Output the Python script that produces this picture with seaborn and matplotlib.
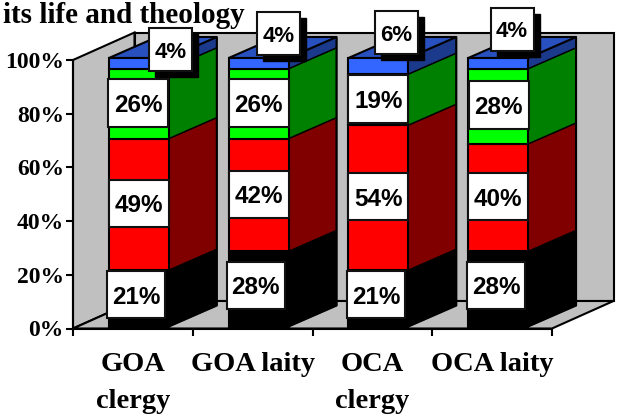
import matplotlib
matplotlib.use("Agg")
import matplotlib.pyplot as plt
from matplotlib.patches import Rectangle
import numpy as np
import seaborn as sns

# ---- data ----
categories = ["GOA\nclergy", "GOA laity", "OCA\nclergy", "OCA laity"]
black_vals = [21, 28, 21, 28]
red_vals = [49, 42, 54, 40]
green_vals = [26, 26, 19, 28]
blue_vals = [4, 4, 6, 4]
y_ticks = [0, 20, 40, 60, 80, 100]
title_text = "its life and theology"

# ---- layout (pixels) ----
W, H = 619, 418
AX_L, AX_R, AX_T, AX_B = 73, 552, 60, 328.5
BAR_SHIFT = (6, 2)
DEPTH_PX = (48, 21)
WALL_PX = (61.5, 27.5)
LABEL_OFFSETS = {
    "black": [(-3, 3.8), (-3, 3.9), (-2.5, 3.8), (-2, 3.9)],
    "red": [(0, 1.3), (0, 0.5), (0, 1), (0, 1)],
    "green": [(-0.5, 1), (0, 1), (0, 1), (0.5, 1.3)],
    "blue": [(31.5, 13.4), (20.3, 29.4), (18, 33.5), (14, 33.9)],
}
BOX_PX = {"black": (58, 47), "red": (60, 47), "green": (60, 48), "blue": (43, 43)}
SHADOW_PX = (6, 6)

series = [
    ("black", black_vals, "#000000", "#000000"),
    ("red", red_vals, "#FF0000", "#800000"),
    ("green", green_vals, "#00FF00", "#008000"),
    ("blue", blue_vals, "#3366FF", "#1C3A8C"),
]
TOP_COLOR = "#2850BE"
WALL = "#C0C0C0"
LW = 1.5

sns.set_theme(style="white")
fig = plt.figure(figsize=(W / 100, H / 100), dpi=100, facecolor="white")

def rect(l, r, t, b):
    return [l / W, 1 - b / H, (r - l) / W, (b - t) / H]

ax = fig.add_axes(rect(AX_L, AX_R, AX_T, AX_B), facecolor="none")
axb = fig.add_axes(rect(AX_L + BAR_SHIFT[0], AX_R + BAR_SHIFT[0],
                        AX_T - BAR_SHIFT[1], AX_B - BAR_SHIFT[1]), facecolor="none")
n = len(categories)
XLIM, YLIM = (-0.5, n - 0.5), (0, 100)
px_x = (AX_R - AX_L) / n
px_y = (AX_B - AX_T) / 100

# ---- walls and floor ----
wx, wy = WALL_PX[0] / px_x, WALL_PX[1] / px_y
x0, x1 = XLIM
edge = dict(edgecolor="black", linewidth=LW, clip_on=False, joinstyle="miter")
ax.fill([x0 + wx, x1 + wx, x1 + wx, x0 + wx], [wy, wy, 100 + wy, 100 + wy], facecolor=WALL, **edge)
ax.fill([x0, x0 + wx, x0 + wx, x0], [0, wy, 100 + wy, 100], facecolor=WALL, **edge)
ax.fill([x0, x1, x1 + wx, x0 + wx], [0, 0, wy, wy], facecolor=WALL, **edge)

# ---- bars ----
dx, dy = DEPTH_PX[0] / px_x, DEPTH_PX[1] / px_y
bottom = np.zeros(n)
half = 0.25
for i in range(n):
    v0 = 0.0
    for name, vals, front, side in series:
        v1 = v0 + vals[i]
        axb.fill([i + half, i + half + dx, i + half + dx, i + half],
                 [v0, v0 + dy, v1 + dy, v1], facecolor=side, edgecolor="black",
                 linewidth=1.0, clip_on=False, zorder=1)
        v0 = v1
    axb.fill([i - half, i + half, i + half + dx, i - half + dx],
             [v0, v0, v0 + dy, v0 + dy], facecolor=TOP_COLOR, edgecolor="black",
             linewidth=LW, clip_on=False, zorder=1)
    axb.plot([i + half, i + half + dx, i + half + dx], [0, dy, v0 + dy], color="black",
             lw=LW, clip_on=False, zorder=1.5)

for name, vals, front, side in series:
    sns.barplot(x=categories, y=vals, bottom=bottom, color=front, saturation=1,
                width=0.5, edgecolor="black", linewidth=LW, ax=axb, zorder=2)
    bottom = bottom + np.array(vals)
for p in axb.patches:
    p.set_clip_on(False)

# ---- value labels ----
bottom = np.zeros(n)
for name, vals, front, side in series:
    bw, bh = BOX_PX[name][0] / px_x, BOX_PX[name][1] / px_y
    for i, v in enumerate(vals):
        ox, oy = LABEL_OFFSETS[name][i]
        cx = i + ox / px_x
        cy = bottom[i] + v / 2 + oy / px_y
        if name == "blue":
            axb.add_patch(Rectangle((cx - bw / 2 + SHADOW_PX[0] / px_x, cy - bh / 2 - SHADOW_PX[1] / px_y),
                                    bw, bh, facecolor="black", edgecolor="black",
                                    clip_on=False, zorder=3))
        axb.add_patch(Rectangle((cx - bw / 2, cy - bh / 2), bw, bh, facecolor="white",
                                edgecolor="#111111", linewidth=LW, clip_on=False, zorder=4))
        axb.text(cx, cy, f"{v}%", ha="center", va="center_baseline", color="black",
                 family="Liberation Sans", weight="bold",
                 fontsize=16 if v < 10 else 17.5, zorder=5, clip_on=False)
    bottom = bottom + np.array(vals)

axb.set_xlim(*XLIM)
axb.set_ylim(*YLIM)
axb.axis("off")

# ---- axes ----
ax.set_xlim(*XLIM)
ax.set_ylim(*YLIM)
for s in ("top", "right"):
    ax.spines[s].set_visible(False)
for s in ("left", "bottom"):
    ax.spines[s].set_color("black")
    ax.spines[s].set_linewidth(LW)
ax.set_yticks(y_ticks, [f"{t}%" for t in y_ticks])
ax.set_xticks(range(n), categories)
ax.set_xticks(np.arange(n + 1) - 0.5, minor=True)
ax.tick_params(axis="x", which="major", length=0, pad=17)
ax.tick_params(axis="x", which="minor", length=5, width=LW, color="black", bottom=True)
ax.tick_params(axis="y", length=5, width=LW, color="black", left=True, pad=1.5)
serif = dict(family="Liberation Serif", weight="bold", color="black")
for t in ax.get_yticklabels():
    t.set(fontsize=17, **serif)
for t in ax.get_xticklabels():
    t.set(fontsize=20.5, linespacing=1.6, va="top", **serif)

fig.text(3 / W, 1 - 23 / H, title_text, ha="left", va="baseline", fontsize=21, **serif)

fig.savefig("out.png", dpi=100, facecolor="white")
